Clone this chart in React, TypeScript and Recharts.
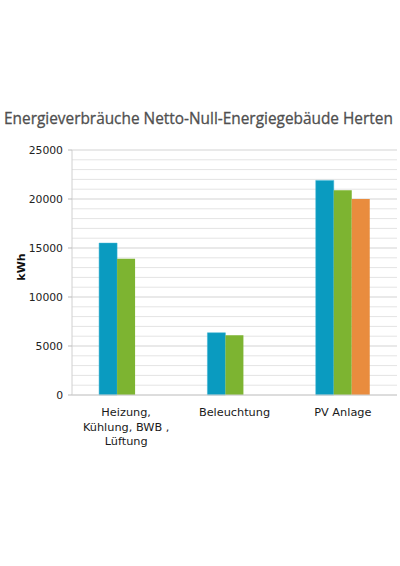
import React from 'react';
import { BarChart, Bar, XAxis, YAxis, CartesianGrid } from 'recharts';

const categories = ['Heizung, Kühlung, BWB , Lüftung', 'Beleuchtung', 'PV Anlage'];
const categoryLines: string[][] = [['Heizung,', 'Kühlung, BWB ,', 'Lüftung'], ['Beleuchtung'], ['PV Anlage']];
const seriesBlue = [15500, 6350, 21900];
const seriesGreen = [13900, 6100, 20900];
const seriesOrange: (number | null)[] = [null, null, 20000];
const yTicks = [0, 5000, 10000, 15000, 20000, 25000];
const minorTicks = [1000, 2000, 3000, 4000, 6000, 7000, 8000, 9000, 11000, 12000, 13000, 14000, 16000, 17000, 18000, 19000, 21000, 22000, 23000, 24000];
const yMax = 25000;

const data = categories.map((c, i) => ({
  name: c,
  idx: i,
  blue: seriesBlue[i],
  green: seriesGreen[i],
  orange: seriesOrange[i],
}));

const FONT = 'DejaVu Sans, Verdana, sans-serif';

const CatTick = (props: any) => {
  const { x, y, payload } = props;
  const lines = categoryLines[payload.index] || [String(payload.value)];
  return (
    <g transform={`translate(${x},${y})`}>
      {lines.map((l, i) => (
        <text key={i} x={0} y={13 + i * 14.5} textAnchor="middle" fill="#1a1a1a" fontSize={11.3} fontFamily={FONT}>
          {l}
        </text>
      ))}
    </g>
  );
};

const gen = (vals: number[]) => (props: any) => {
  const scale = props?.yAxis?.scale;
  if (typeof scale === 'function') return vals.map((v) => scale(v));
  if (scale && typeof scale.map === 'function') return vals.map((v) => scale.map(v));
  const off = props?.offset;
  if (!off) return [];
  return vals.map((v) => off.top + off.height * (1 - v / yMax));
};

export default function App() {
  return (
    <div style={{ position: 'absolute', left: 0, top: 0, width: 400, height: 566, background: '#fff' }}>
      <BarChart
        width={400}
        height={566}
        data={data}
        margin={{ top: 150, right: 3, left: 0, bottom: 111 }}
        barCategoryGap="25%"
        barGap={0}
      >
        <CartesianGrid vertical={false} stroke="#e4e4e4" strokeWidth={1} horizontalCoordinatesGenerator={gen(minorTicks)} />
        <CartesianGrid vertical={false} stroke="#d4d4d4" strokeWidth={1.2} horizontalCoordinatesGenerator={gen(yTicks)} />
        <XAxis
          dataKey="name"
          height={60}
          tick={<CatTick />}
          tickLine={false}
          axisLine={{ stroke: '#d0d0d0' }}
          interval={0}
        />
        <YAxis
          width={72}
          domain={[0, yMax]}
          ticks={yTicks}
          interval={0}
          tick={{ fill: '#222', fontSize: 10.8, fontFamily: FONT }}
          tickLine={{ stroke: '#bbb' }}
          tickSize={4}
          tickMargin={5}
          axisLine={{ stroke: '#d0d0d0' }}
        />
        <Bar dataKey="blue" fill="#0a9bc0" stroke="#3ab3d4" strokeWidth={0.5} isAnimationActive={false} />
        <Bar dataKey="green" fill="#7db431" isAnimationActive={false} />
        <Bar dataKey="orange" fill="#e98c3e" isAnimationActive={false} />
      </BarChart>
      <svg width={400} height={566} style={{ position: 'absolute', left: 0, top: 0, pointerEvents: 'none' }}>
        <text x={4} y={123.5} fontSize={15.4} fill="#4f4f4f" stroke="#4f4f4f" strokeWidth={0.3} fontFamily="Open Sans, sans-serif">
          Energieverbräuche Netto-Null-Energiegebäude Herten
        </text>
        <text x={25} y={267} transform="rotate(-90 25 267)" textAnchor="middle" fontSize={11} fontWeight="bold" fill="#111" fontFamily={FONT}>
          kWh
        </text>
      </svg>
    </div>
  );
}
